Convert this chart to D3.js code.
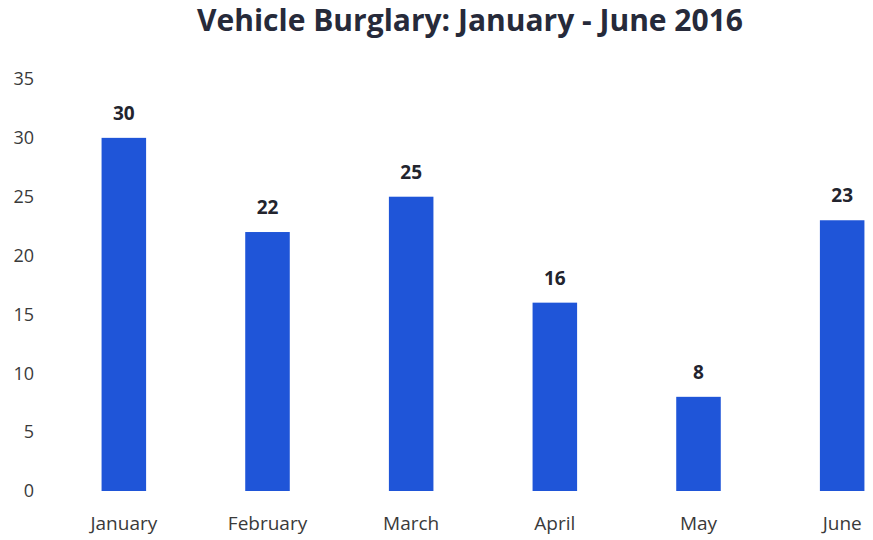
<!DOCTYPE html>
<html>
<head>
<meta charset="utf-8">
<script src="https://cdn.jsdelivr.net/npm/d3@7"></script>
<style>
  body { margin: 0; background: #fff; }
  svg { display: block; font-family: "Open Sans", Lato, sans-serif; }
</style>
</head>
<body>
<svg id="chart" width="873" height="540"></svg>
<script>
// data
const months = ["January", "February", "March", "April", "May", "June"];
const burglaries = [30, 22, 25, 16, 8, 23];
const yTicks = [0, 5, 10, 15, 20, 25, 30, 35];

var svg = d3.select("#chart"),
  width = +svg.attr("width"),
  height = +svg.attr("height");

// scales
const x = d3.scaleBand()
  .domain(months)
  .range([52, 914])
  .paddingInner(0.69)
  .paddingOuter(0.345);

const y = d3.scaleLinear().domain([0, 35]).range([491, 79]);

// title
svg.append("text")
  .attr("x", 470)
  .attr("y", 31)
  .attr("text-anchor", "middle")
  .style("font-size", "30px")
  .style("font-weight", "bold")
  .style("fill", "#262a3a")
  .text("Vehicle Burglary: January - June 2016");

// y axis (labels only)
const yAxis = svg.append("g")
  .attr("transform", "translate(34,0)")
  .call(d3.axisLeft(y).tickValues(yTicks).tickSize(0).tickPadding(0));
yAxis.select(".domain").remove();
yAxis.selectAll("text")
  .style("font-family", "'Open Sans', Lato, sans-serif")
  .style("font-size", "18px")
  .style("fill", "#3a3a3a");

// x axis (labels only)
const xAxis = svg.append("g")
  .attr("transform", "translate(0,516)")
  .call(d3.axisBottom(x).tickSize(0).tickPadding(0));
xAxis.select(".domain").remove();
xAxis.selectAll("text")
  .style("font-family", "'Open Sans', Lato, sans-serif")
  .style("font-size", "19px")
  .style("fill", "#3a3a3a");

// bars
svg.append("g")
  .selectAll("rect")
  .data(burglaries)
  .join("rect")
  .attr("x", (d, i) => x(months[i]))
  .attr("y", (d) => y(d))
  .attr("width", x.bandwidth())
  .attr("height", (d) => y(0) - y(d))
  .attr("fill", "#1f55d8");

// value labels
svg.append("g")
  .selectAll("text")
  .data(burglaries)
  .join("text")
  .attr("x", (d, i) => x(months[i]) + x.bandwidth() / 2)
  .attr("y", (d) => y(d) - 18)
  .attr("text-anchor", "middle")
  .style("font-size", "19px")
  .style("font-weight", "bold")
  .style("fill", "#22242e")
  .text((d) => d);
</script>
</body>
</html>
